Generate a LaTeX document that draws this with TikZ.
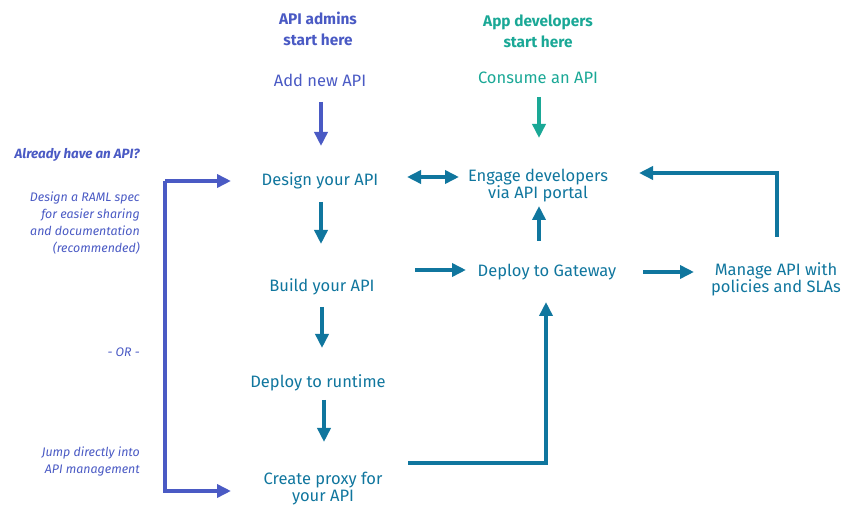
\documentclass[tikz,border=0pt]{standalone}
\usepackage{fontspec}
\setmainfont{Fira Sans}
\usetikzlibrary{arrows.meta}
\definecolor{adminblue}{RGB}{74,90,196}
\definecolor{flowteal}{RGB}{16,118,158}
\definecolor{devgreen}{RGB}{26,168,150}
\tikzset{
  lbl/.style={font=\fontsize{16.5}{17}\selectfont, text=flowteal, align=center, inner sep=0pt},
  head/.style={font=\fontsize{15.4}{21}\selectfont\bfseries, align=center, inner sep=0pt},
  side/.style={font=\fontsize{12.4}{17}\selectfont\itshape, text=adminblue, align=right, anchor=east, inner sep=0pt},
  arr/.style={line width=4.5pt, -{Triangle[length=14pt,width=13pt]}},
  dblarr/.style={line width=4.5pt, {Triangle[length=14pt,width=13pt]}-{Triangle[length=14pt,width=13pt]}},
}
\begin{document}
\begin{tikzpicture}[x=1pt,y=-1pt]
\useasboundingbox (0,0) rectangle (860,526);
% headers
\node[head, text=adminblue] (admins) at (318,29) {API admins\\start here};
\node[head, text=devgreen] (devs) at (538,31) {App developers\\start here};
\node[lbl, text=adminblue] (add) at (320,80) {Add new API};
\node[lbl, text=devgreen] (consume) at (538,78) {Consume an API};
% main flow
\node[lbl] (design) at (320,181) {Design your API};
\node[lbl] (build) at (322,287) {Build your API};
\node[lbl] (runtime) at (318,383) {Deploy to runtime};
\node[lbl] (proxy) at (323,489) {Create proxy for\\your API};
\node[lbl] (engage) at (538,186) {Engage developers\\via API portal};
\node[lbl] (gateway) at (547,272) {Deploy to Gateway};
\node[lbl] (manage) at (776,279) {Manage API with\\policies and SLAs};
% side notes
\node[side, font=\fontsize{13.4}{17}\selectfont\bfseries\itshape] (already) at (140,155) {Already have an API?};
\node[side] (raml) at (140,223) {Design a RAML spec\\for easier sharing\\and documentation\\(recommended)};
\node[side] (or) at (140,352) {- OR -};
\node[side] (jump) at (140,462) {Jump directly into\\API management};
% arrow coordinates
\coordinate (a1s) at (321,102); \coordinate (a1e) at (321,146);
\coordinate (g1s) at (539,97);  \coordinate (g1e) at (539,138);
\coordinate (d1s) at (321,202); \coordinate (d1e) at (321,244);
\coordinate (d2s) at (322,307); \coordinate (d2e) at (322,348);
\coordinate (d3s) at (324,400); \coordinate (d3e) at (324,442);
\coordinate (dbl1) at (407,177); \coordinate (dbl2) at (459,177);
\coordinate (up1s) at (539,241); \coordinate (up1e) at (539,206);
\coordinate (r1s) at (415,270); \coordinate (r1e) at (466,270);
\coordinate (r2s) at (643,272); \coordinate (r2e) at (694,272);
\coordinate (m1) at (777,237); \coordinate (m2) at (777,173); \coordinate (m3) at (639,173);
\coordinate (p1) at (408,463); \coordinate (p2) at (546,463); \coordinate (p3) at (546,302);
\coordinate (b1) at (231,181); \coordinate (b2) at (165,181); \coordinate (b3) at (165,491); \coordinate (b4) at (231,491);
% arrows
\draw[arr, adminblue] (a1s) -- (a1e);
\draw[arr, devgreen] (g1s) -- (g1e);
\draw[arr, flowteal] (d1s) -- (d1e);
\draw[arr, flowteal] (d2s) -- (d2e);
\draw[arr, flowteal] (d3s) -- (d3e);
\draw[dblarr, flowteal] (dbl1) -- (dbl2);
\draw[arr, flowteal] (up1s) -- (up1e);
\draw[arr, flowteal] (r1s) -- (r1e);
\draw[arr, flowteal] (r2s) -- (r2e);
\draw[arr, flowteal] (m1) -- (m2) -- (m3);
\draw[arr, flowteal] (p1) -- (p2) -- (p3);
\draw[arr, adminblue] (b2) -- (b1);
\draw[arr, adminblue] (b2) -- (b3) -- (b4);
\end{tikzpicture}
\end{document}
